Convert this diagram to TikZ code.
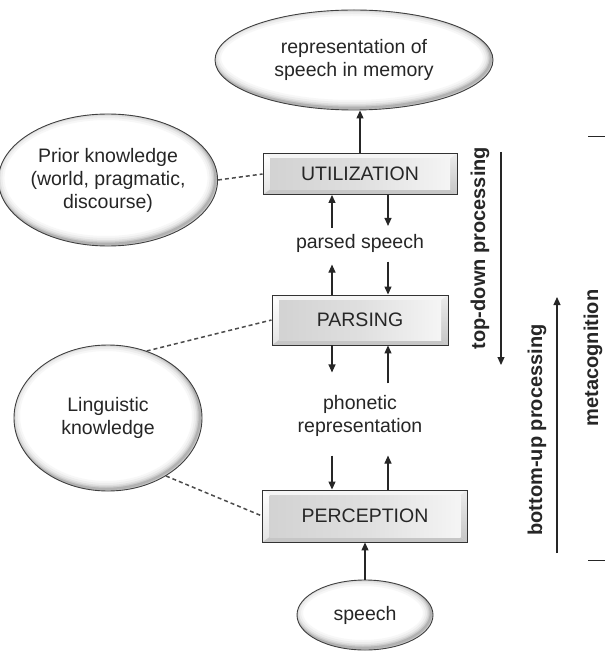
\documentclass[tikz,border=0pt]{standalone}
\usepackage{fontspec}
\setmainfont{Liberation Sans}
\usetikzlibrary{shapes.geometric,arrows.meta,calc}
\begin{document}
\begin{tikzpicture}[x=1pt,y=-1pt,
  txt/.style={font=\fontsize{19.5}{23}\selectfont, text=black!85},
  rtxt/.style={font=\fontsize{20}{24}\selectfont\bfseries, text=black!85, rotate=90, inner sep=0pt},
  oval/.style={ellipse, draw=black!75, line width=0.9pt, fill=white, inner sep=0pt, align=center, txt,
    path picture={
      \foreach \w/\c in {16/6,12/14,8/26,5/40,2.5/60} {
        \draw[line width=\w pt, draw=gray!\c] let \p1=($(path picture bounding box.north east)-(path picture bounding box.center)$) in
          ([xshift=-2pt,yshift=2pt]path picture bounding box.center) ellipse [x radius=\x1, y radius=\y1];
      }
    }},
  bevel/.style={draw=black!80, line width=0.9pt, inner sep=0pt, txt,
    path picture={
      \coordinate (bnw) at (path picture bounding box.north west);
      \coordinate (bne) at (path picture bounding box.north east);
      \coordinate (bsw) at (path picture bounding box.south west);
      \coordinate (bse) at (path picture bounding box.south east);
      \coordinate (inw) at ([xshift=7pt,yshift=-5pt]bnw);
      \coordinate (ine) at ([xshift=-7pt,yshift=-5pt]bne);
      \coordinate (isw) at ([xshift=7pt,yshift=5pt]bsw);
      \coordinate (ise) at ([xshift=-7pt,yshift=5pt]bse);
      \fill[gray!8] (bnw) -- (bne) -- (ine) -- (inw) -- cycle;
      \shade[top color=white, bottom color=gray!22] (bnw) -- (inw) -- (isw) -- (bsw) -- cycle;
      \shade[top color=gray!15, bottom color=gray!45] (bne) -- (bse) -- (ise) -- (ine) -- cycle;
      \fill[gray!45] (bsw) -- (isw) -- (ise) -- (bse) -- cycle;
      \shade[left color=gray!35, right color=gray!8, middle color=gray!25] (inw) rectangle (ise);
    }},
  arr/.style={-{Triangle[length=8pt,width=7pt]}, line width=1.1pt, black!85},
  dsh/.style={draw=gray!60!black, dash pattern=on 4pt off 3pt, line width=1.5pt}]
\useasboundingbox (0,0) rectangle (605,652);
\fill[white] (0,0) rectangle (605,652);

\node[oval, minimum width=278, minimum height=100] (mem) at (354,60) {representation of\\speech in memory};
\node[oval, minimum width=188, minimum height=132] (prior) at (108,180) {Prior knowledge\\(world, pragmatic,\\discourse)};
\node[oval, minimum width=188, minimum height=146] (ling) at (108,418) {Linguistic\\knowledge};
\node[oval, minimum width=136, minimum height=70] (speech) at (365,615) {speech};

\node[bevel, minimum width=194, minimum height=41] (util) at (360,174) {UTILIZATION};
\node[bevel, minimum width=176, minimum height=50] (pars) at (360,320) {PARSING};
\node[bevel, minimum width=205, minimum height=52] (perc) at (365,516) {PERCEPTION};

\node[txt] (parsed) at (360,243) {parsed speech};
\node[txt, align=center] (phon) at (360,416) {phonetic\\representation};

\coordinate (L) at (332,0);
\coordinate (R) at (388,0);

\draw[arr] (util.north) -- (util.north |- mem.south);
\draw[arr] (speech.north) -- (speech.north |- perc.south);

\draw[arr] ($(util.south -| L)+(0,33)$) -- (util.south -| L);
\draw[arr] (util.south -| R) -- ($(util.south -| R)+(0,31)$);
\draw[arr] (pars.north -| L) -- ($(pars.north -| L)+(0,-30)$);
\draw[arr] ($(pars.north -| R)+(0,-33)$) -- (pars.north -| R);

\draw[arr] (pars.south -| L) -- ($(pars.south -| L)+(0,27)$);
\draw[arr] ($(pars.south -| R)+(0,38)$) -- (pars.south -| R);
\draw[arr] ($(perc.north -| L)+(0,-34)$) -- (perc.north -| L);
\draw[arr] (perc.north -| R) -- ($(perc.north -| R)+(0,-34)$);

\draw[dsh] (prior.east) -- (util.west);
\draw[dsh] (ling.60) -- (pars.west);
\draw[dsh] (ling.-45) -- (perc.west);

\node[rtxt] (td) at (480,248) {top-down processing};
\coordinate (tdA) at (501,152);
\coordinate (tdB) at (501,365);
\draw[arr] (tdA) -- (tdB);

\node[rtxt] (bu) at (537,430) {bottom-up processing};
\coordinate (buA) at (557,553);
\coordinate (buB) at (557,297);
\draw[arr] (buA) -- (buB);

\node[rtxt] (meta) at (593,358) {metacognition};
\coordinate (t1a) at (588,137);
\coordinate (t1b) at (605,137);
\coordinate (t2a) at (588,560);
\coordinate (t2b) at (605,560);
\draw[line width=1pt, black!85] (t1a) -- (t1b);
\draw[line width=1pt, black!85] (t2a) -- (t2b);
\end{tikzpicture}
\end{document}
